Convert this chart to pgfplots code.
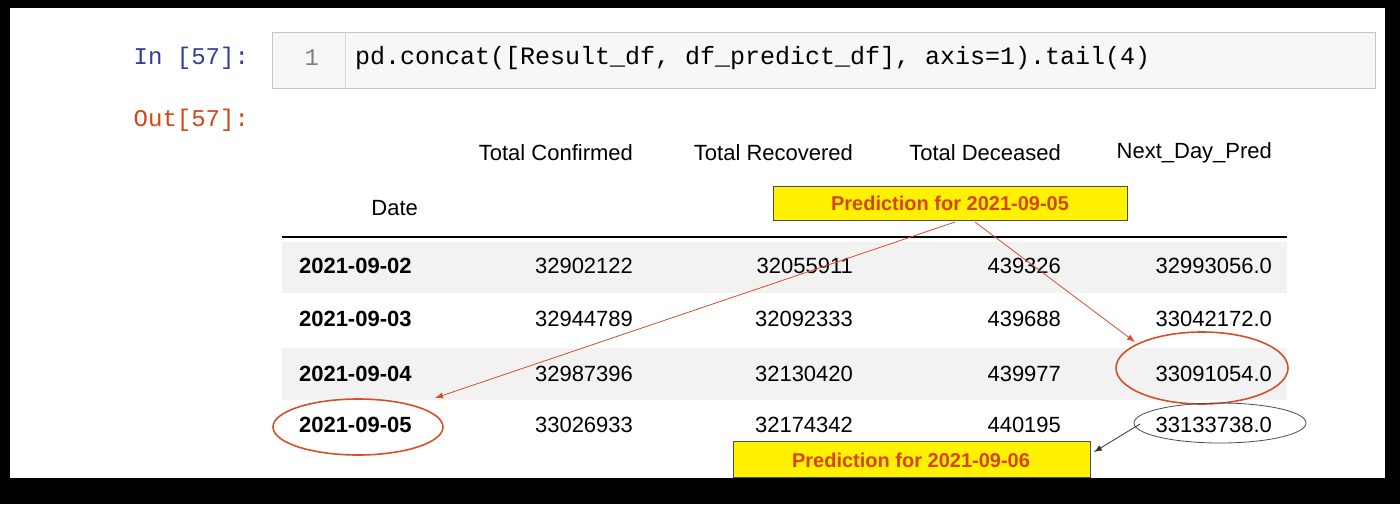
\documentclass[border=0pt]{standalone}
\usepackage{pgfplots}
\pgfplotsset{compat=1.18}
\usepackage{fontspec}
\setmainfont{Liberation Sans}
\setmonofont{Liberation Mono}
\definecolor{inblue}{HTML}{303F9F}
\definecolor{outred}{HTML}{D84315}
\definecolor{stripe}{HTML}{F2F2F2}
\definecolor{redarrow}{HTML}{D4502A}
\newcommand\row[6]{%
\node[anchor=west,font=\bfseries\fontsize{11}{11}\selectfont] at (axis cs:292,#1) {#2};
\node[anchor=east] at (axis cs:640,#1) {#3};
\node[anchor=east] at (axis cs:860,#1) {#4};
\node[anchor=east] at (axis cs:1068,#1) {#5};
\node[anchor=east] at (axis cs:1279,#1) {#6};}
\begin{document}
\begin{tikzpicture}
\begin{axis}[scale only axis,width=700pt,height=252pt,xmin=0,xmax=1400,ymin=0,ymax=504,y dir=reverse,axis lines=none,clip=false]
\addplot[fill=black,draw=none] coordinates {(0,0)(1400,0)(1400,504)(0,504)} --cycle;
\addplot[fill=white,draw=none] coordinates {(10,8)(1385,8)(1385,478)(10,478)} --cycle;
\addplot[fill=gray!6,draw=gray!45] coordinates {(272,32)(1375,32)(1375,88)(272,88)} --cycle;
\addplot[draw=gray!30] coordinates {(345,32)(345,88)};
\addplot[fill=stripe,draw=none] coordinates {(282,242)(1287,242)(1287,293)(282,293)} --cycle;
\addplot[fill=stripe,draw=none] coordinates {(282,348)(1287,348)(1287,400)(282,400)} --cycle;
\addplot[black,line width=1.2pt] coordinates {(282,237)(1287,237)};
\node[anchor=east,inblue,font=\ttfamily\fontsize{12}{12}\selectfont] at (axis cs:256,58) {In [57]:};
\node[anchor=east,gray,font=\ttfamily\fontsize{12}{12}\selectfont] at (axis cs:326,58) {1};
\node[anchor=west,font=\ttfamily\fontsize{12.5}{12}\selectfont] at (axis cs:348,58) {pd.concat([Result\_df, df\_predict\_df], axis=1).tail(4)};
\node[anchor=east,outred,font=\ttfamily\fontsize{12}{12}\selectfont] at (axis cs:256,120) {Out[57]:};
\node[anchor=east,font=\fontsize{11}{11}\selectfont] at (axis cs:640,153) {Total Confirmed};
\node[anchor=east,font=\fontsize{11}{11}\selectfont] at (axis cs:860,153) {Total Recovered};
\node[anchor=east,font=\fontsize{11}{11}\selectfont] at (axis cs:1068,153) {Total Deceased};
\node[anchor=east,font=\fontsize{11}{11}\selectfont] at (axis cs:1279,153) {Next\_Day\_Pred};
\node[anchor=east,font=\fontsize{11}{11}\selectfont] at (axis cs:425,208) {Date};
\begin{scope}[every node/.style={font=\fontsize{11}{11}\selectfont}]
\row{266}{2021-09-02}{32902122}{32055911}{439326}{32993056.0}
\row{319}{2021-09-03}{32944789}{32092333}{439688}{33042172.0}
\row{374}{2021-09-04}{32987396}{32130420}{439977}{33091054.0}
\row{425}{2021-09-05}{33026933}{32174342}{440195}{33133738.0}
\end{scope}
\addplot[fill=yellow,draw=black!70] coordinates {(773,186)(1127,186)(1127,220)(773,220)} --cycle;
\node[outred,font=\bfseries\fontsize{10}{10}\selectfont] at (axis cs:950,203) {Prediction for 2021-09-05};
\addplot[fill=yellow,draw=black!70] coordinates {(733,441)(1090,441)(1090,477)(733,477)} --cycle;
\node[outred,font=\bfseries\fontsize{10}{10}\selectfont] at (axis cs:911,460) {Prediction for 2021-09-06};
\draw[redarrow,-latex] (axis cs:955,222) -- (axis cs:435,398);
\draw[redarrow,-latex] (axis cs:975,222) -- (axis cs:1135,342);
\draw[redarrow,thick] (axis cs:358,427) ellipse [x radius=42.5pt,y radius=14pt];
\draw[redarrow,thick] (axis cs:1202,368) ellipse [x radius=43pt,y radius=18pt];
\draw[black!70] (axis cs:1220,423) ellipse [x radius=43pt,y radius=10pt];
\draw[black!80,-latex] (axis cs:1140,424) -- (axis cs:1094,452);
\end{axis}
\end{tikzpicture}
\end{document}
